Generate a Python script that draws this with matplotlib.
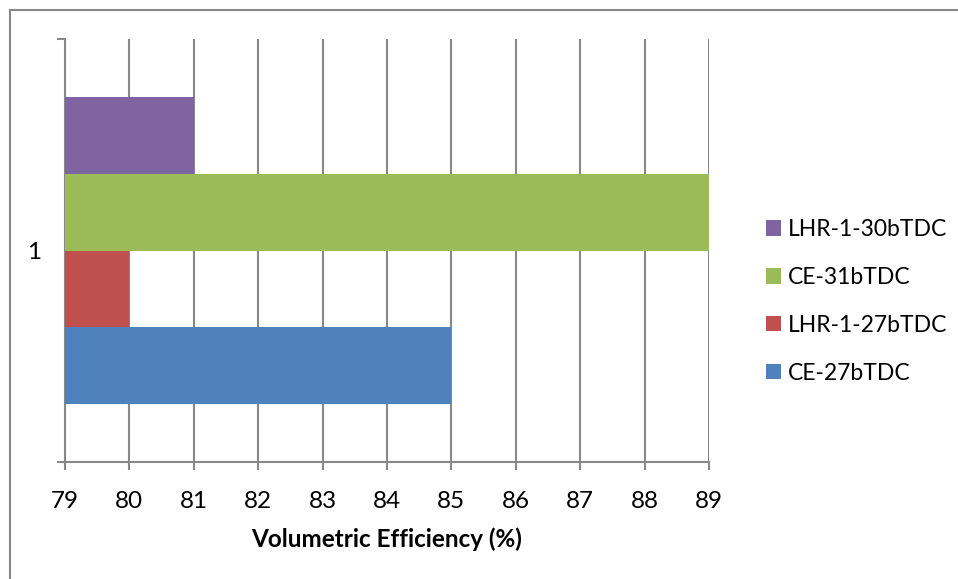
import matplotlib
matplotlib.use("Agg")
import matplotlib.pyplot as plt
from matplotlib.patches import Rectangle

plt.rcParams['font.family'] = ['Lato', 'DejaVu Sans']

# data
series = ['CE-27bTDC', 'LHR-1-27bTDC', 'CE-31bTDC', 'LHR-1-30bTDC']
values = [85, 80, 89, 81]
colors = ['#4F81BD', '#C0504D', '#9BBB59', '#8064A2']
category = '1'
x_ticks = list(range(79, 90))

xmin, xmax = 79, 89
grid_col = '#888888'

fig = plt.figure(figsize=(9.58, 5.79), dpi=100)
ax = fig.add_axes([65 / 958, 1 - 462 / 579, (709 - 65) / 958, (462 - 39) / 579])

# excel-style clustered bars, gap width 150%
n = len(series)
bar_h = 1 / (n + 1.5)
start = -n * bar_h / 2
handles = []
for i, (name, v, c) in enumerate(zip(series, values, colors)):
    y = start + bar_h * (i + 0.5)
    b = ax.barh(y, v - xmin, left=xmin, height=bar_h, color=c, label=name, zorder=3)
    handles.append(b)

ax.set_xlim(xmin, xmax)
ax.set_ylim(-0.5, 0.5)
ax.set_xticks(x_ticks)
ax.tick_params(axis='x', labelsize=17.5, length=6, width=1.5, color=grid_col, pad=15)
ax.xaxis.grid(True, color=grid_col, linewidth=1.5, zorder=0)
ax.set_axisbelow(True)

ax.set_yticks([-0.5, 0.5])
ax.set_yticklabels(['', ''])
ax.set_yticks([0], minor=True)
ax.set_yticklabels([category], minor=True)
ax.tick_params(axis='y', which='major', length=6, width=1.5, color=grid_col)
ax.tick_params(axis='y', which='minor', length=0, labelsize=17.5, pad=17)

for s in ['top', 'right']:
    ax.spines[s].set_visible(False)
for s in ['left', 'bottom']:
    ax.spines[s].set_color(grid_col)
    ax.spines[s].set_linewidth(1.5)

ax.set_xlabel('Volumetric Efficiency (%)', fontsize=17.5, fontweight='bold', labelpad=11)

fig.legend(handles[::-1], series[::-1], loc='upper left',
           bbox_to_anchor=(757 / 958, 1 - 210 / 579), frameon=False,
           fontsize=16.5, handlelength=0.65, handleheight=0.65,
           handletextpad=0.3, labelspacing=1.17, borderaxespad=0)

# outer chart border (only left/top visible in the crop)
fig.patches.append(Rectangle((10 / 958, -0.1), 1.2, 1 - 10 / 579 + 0.1,
                             transform=fig.transFigure, fill=False,
                             edgecolor='#888888', linewidth=1.5))

fig.savefig('out.png', dpi=100)
